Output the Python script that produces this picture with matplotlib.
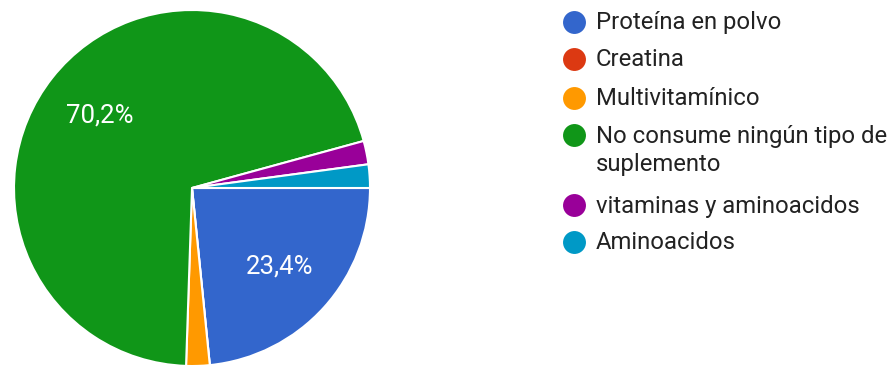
import matplotlib
matplotlib.use("Agg")
import matplotlib.pyplot as plt

plt.rcParams['font.family'] = ['Roboto', 'DejaVu Sans']

# survey answers (47 responses)
categories = ["Proteína en polvo", "Creatina", "Multivitamínico",
              "No consume ningún tipo de\nsuplemento",
              "vitaminas y aminoacidos", "Aminoacidos"]
counts = [11, 0, 1, 33, 1, 1]
colors = ["#3366cc", "#dc3912", "#ff9900", "#109618", "#990099", "#0099c6"]

W, H = 895, 368
fig = plt.figure(figsize=(W / 100, H / 100), dpi=100)

# pie: centre (192, 188) px, radius 178 px
cx, cy, r = 192, 188, 178
ax = fig.add_axes([(cx - r) / W, 1 - (cy + r) / H, 2 * r / W, 2 * r / H])


def pct_label(p):
    return f"{p:.1f}%".replace(".", ",") if p > 5 else ""


wedges, texts, autotexts = ax.pie(
    counts, colors=colors, startangle=0, counterclock=False,
    autopct=pct_label, pctdistance=0.66,
    wedgeprops=dict(edgecolor="white", linewidth=1.5),
    textprops=dict(color="white", fontsize=18.5))
ax.set_aspect("equal")
ax.set_xlim(-1, 1)
ax.set_ylim(-1, 1)

# legend on a pixel-space overlay
lg = fig.add_axes([0, 0, 1, 1])
lg.set_xlim(0, W)
lg.set_ylim(H, 0)
lg.axis("off")

marker_y = [21.5, 58.5, 97.5, 135, 205, 241.7]
for y, label, col in zip(marker_y, categories, colors):
    lg.plot(574, y, "o", color=col, markersize=16.5, markeredgewidth=0)
    for i, line in enumerate(label.split("\n")):
        lg.text(596, y + 7.5 + 28 * i, line, color="#222222", fontsize=17.2,
                ha="left", va="baseline")

fig.savefig("out.png", dpi=100, facecolor="white")
